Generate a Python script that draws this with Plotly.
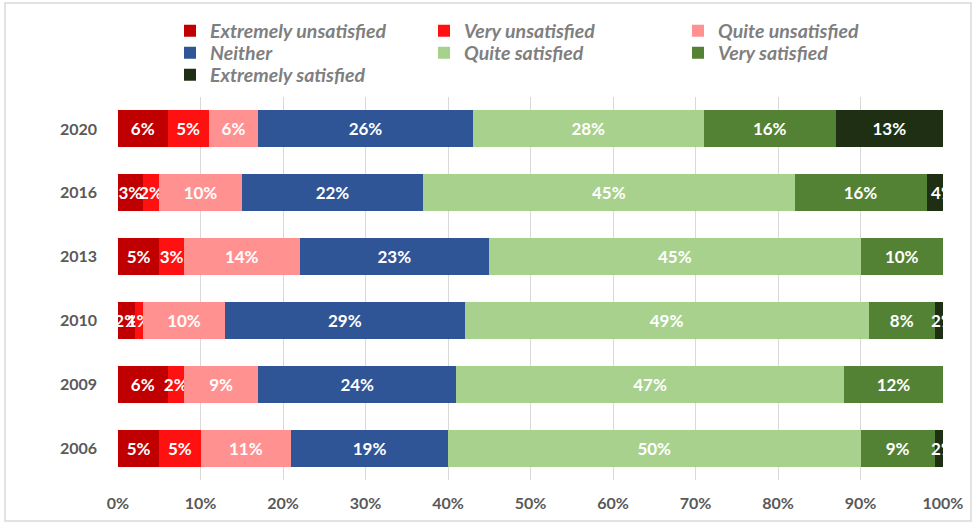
import plotly.graph_objects as go

years = ["2020", "2016", "2013", "2010", "2009", "2006"]
series_names = ["Extremely unsatisfied", "Very unsatisfied", "Quite unsatisfied", "Neither",
                "Quite satisfied", "Very satisfied", "Extremely satisfied"]
extremely_unsatisfied = [6, 3, 5, 2, 6, 5]
very_unsatisfied = [5, 2, 3, 1, 2, 5]
quite_unsatisfied = [6, 10, 14, 10, 9, 11]
neither = [26, 22, 23, 29, 24, 19]
quite_satisfied = [28, 45, 45, 49, 47, 50]
very_satisfied = [16, 16, 10, 8, 12, 9]
extremely_satisfied = [13, 4, 0, 2, 0, 2]
values = [extremely_unsatisfied, very_unsatisfied, quite_unsatisfied, neither,
          quite_satisfied, very_satisfied, extremely_satisfied]
colors = ["#C00000", "#FF1111", "#FF9191", "#2F5597", "#A9D18E", "#548235", "#1E2F14"]
legend_rows = ["legend", "legend", "legend", "legend2", "legend2", "legend2", "legend3"]
x_ticks = [0, 10, 20, 30, 40, 50, 60, 70, 80, 90, 100]

W, H = 975, 527
L, R, T, B = 118, 32, 97, 47
pw, ph = W - L - R, H - T - B

fig = go.Figure()
for name, vals, col, lg in zip(series_names, values, colors, legend_rows):
    fig.add_trace(go.Bar(
        y=years, x=[v / 100 for v in vals], name=name, orientation="h",
        marker=dict(color=col, line=dict(width=0)),
        text=[f"{v}%" if v > 0 else "" for v in vals],
        textposition="inside", insidetextanchor="middle", textangle=0,
        constraintext="none",
        textfont=dict(family="Lato", size=17, color="white", weight="bold"),
        hoverinfo="skip", legend=lg,
    ))

legend_font = dict(family="Lato", size=19.5, color="#7F7F7F", style="italic", weight="bold")


def legend_at(ypx):
    return dict(
        orientation="h", x=(170 - L) / pw, xanchor="left",
        y=1 + (T - ypx) / ph, yanchor="middle",
        entrywidth=209, entrywidthmode="pixels", traceorder="normal",
        font=legend_font, bgcolor="rgba(0,0,0,0)",
    )


fig.update_layout(
    width=W, height=H, barmode="stack", bargap=0.42,
    margin=dict(l=L, r=R, t=T, b=B),
    paper_bgcolor="white", plot_bgcolor="white",
    font=dict(family="Lato", color="#595959"),
    legend=legend_at(31), legend2=legend_at(53), legend3=legend_at(75),
    xaxis=dict(
        range=[0, 1], tickvals=[t / 100 for t in x_ticks],
        ticktext=[f"{t}%" for t in x_ticks],
        showgrid=True, gridcolor="#D9D9D9", gridwidth=1,
        zeroline=False, showline=False,
        tickfont=dict(family="Lato", size=16, color="#595959", weight="bold"),
        ticklabelstandoff=12, fixedrange=True,
    ),
    yaxis=dict(
        categoryorder="array", categoryarray=years[::-1],
        showgrid=False, zeroline=False, showline=False,
        tickfont=dict(family="Lato", size=16, color="#595959", weight="bold"),
        ticklabelstandoff=20, fixedrange=True,
    ),
    shapes=[dict(type="rect", xref="paper", yref="paper",
                 x0=(5 - L) / pw, x1=(W - 4 - L) / pw,
                 y0=-(B - 6) / ph, y1=1 + (T - 3) / ph,
                 line=dict(color="#D9D9D9", width=1.5), layer="below")],
)

fig.write_html("out.html", config={"displayModeBar": False},
               post_script="document.body.style.margin='0px';")
